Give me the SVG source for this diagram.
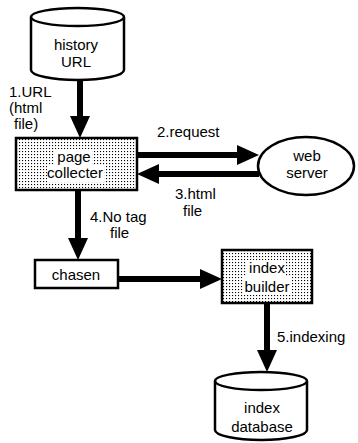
<svg xmlns="http://www.w3.org/2000/svg" width="358" height="443" viewBox="0 0 358 443">
  <style>
    text { font-family: "Liberation Sans", Arial, sans-serif; font-size: 15px; fill: #000; }
    .mid { text-anchor: middle; }
    .shape { fill: #fff; stroke: #000; stroke-width: 2.5; }
    .dotted { fill: url(#stipple); stroke: #000; stroke-width: 2.5; }
    .shaft { stroke: #000; stroke-width: 6; fill: none; marker-end: url(#head); }
    .blank { fill: #fff; }
  </style>
  <defs>
    <pattern id="stipple" width="3" height="3" patternUnits="userSpaceOnUse">
      <rect width="3" height="3" fill="#fff"/>
      <rect x="1" y="1" width="1.1" height="1.1" fill="#000"/>
    </pattern>
    <marker id="head" markerUnits="userSpaceOnUse" markerWidth="24" markerHeight="22" refX="0" refY="10" orient="auto" viewBox="0 0 24 20">
      <path d="M0,0 L22,10 L0,20 Z" fill="#000"/>
    </marker>
  </defs>

  <!-- connectors -->
  <g id="connectors">
    <line class="shaft" x1="80" y1="80" x2="80" y2="116"/>
    <line class="shaft" x1="138" y1="155" x2="237" y2="155"/>
    <line class="shaft" x1="259" y1="174" x2="159" y2="174"/>
    <line class="shaft" x1="78" y1="190" x2="78" y2="238"/>
    <line class="shaft" x1="118" y1="279" x2="200" y2="279"/>
    <line class="shaft" x1="267" y1="303" x2="267" y2="350"/>
  </g>

  <!-- connector labels -->
  <g id="labels">
    <text x="9" y="97">1.URL</text>
    <text x="9" y="113">(html</text>
    <text x="14" y="129">file)</text>
    <text x="157" y="137">2.request</text>
    <text x="175" y="199">3.html</text>
    <text x="183" y="216">file</text>
    <text x="90" y="222">4.No tag</text>
    <text x="110" y="238">file</text>
    <text x="277" y="342">5.indexing</text>
  </g>

  <!-- history URL store -->
  <g id="history-url">
    <path class="shape" d="M31,17 V70 A46.5,10 0 0 0 124,70 V17"/>
    <ellipse class="shape" cx="77.5" cy="17" rx="46.5" ry="9"/>
    <text class="mid" x="76" y="50">history</text>
    <text class="mid" x="76" y="67">URL</text>
  </g>

  <!-- page collecter -->
  <g id="page-collecter">
    <rect class="dotted" x="16" y="138" width="121" height="52"/>
    <rect class="blank" x="54" y="149" width="38" height="17"/>
    <rect class="blank" x="47" y="166" width="57" height="16"/>
    <text class="mid" x="74" y="162">page</text>
    <text class="mid" x="75" y="178">collecter</text>
  </g>

  <!-- web server -->
  <g id="web-server">
    <ellipse class="shape" cx="306" cy="166" rx="48" ry="29"/>
    <text class="mid" x="307" y="161">web</text>
    <text class="mid" x="307" y="178">server</text>
  </g>

  <!-- chasen -->
  <g id="chasen">
    <rect class="shape" x="35" y="260" width="83" height="28"/>
    <text class="mid" x="76" y="280">chasen</text>
  </g>

  <!-- index builder -->
  <g id="index-builder">
    <rect class="dotted" x="222" y="250" width="90" height="53"/>
    <rect class="blank" x="246" y="260" width="40" height="16"/>
    <rect class="blank" x="243" y="277" width="48" height="17"/>
    <text class="mid" x="267" y="273">index</text>
    <text class="mid" x="267" y="292">builder</text>
  </g>

  <!-- index database store -->
  <g id="index-database">
    <path class="shape" d="M215,381 V430 A46,10 0 0 0 307,430 V381"/>
    <ellipse class="shape" cx="261" cy="381" rx="46" ry="9"/>
    <text class="mid" x="262" y="413">index</text>
    <text class="mid" x="262" y="432">database</text>
  </g>
</svg>
